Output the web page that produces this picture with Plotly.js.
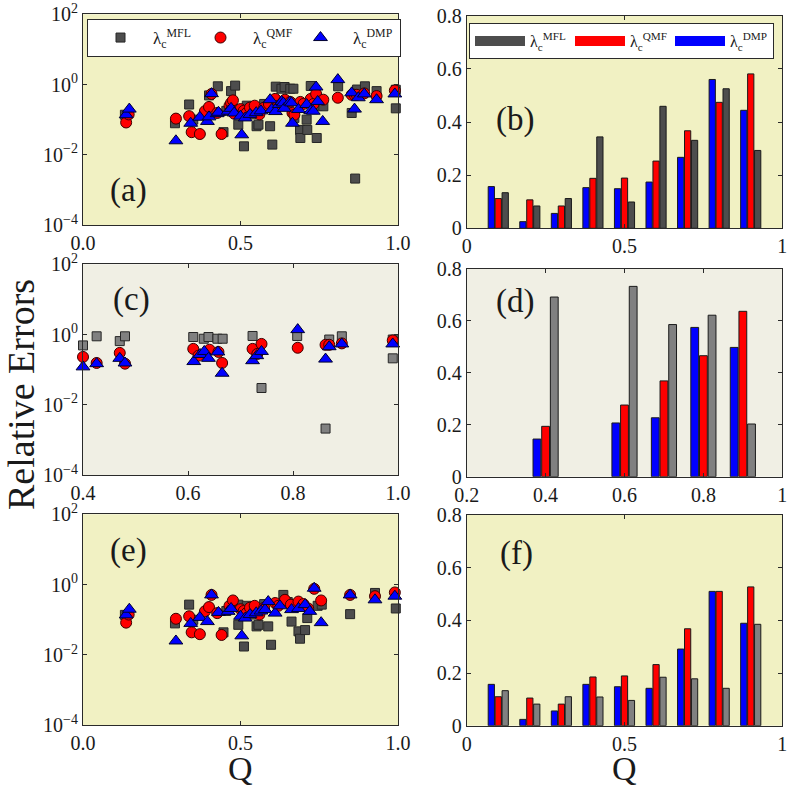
<!DOCTYPE html>
<html>
<head>
<meta charset="utf-8">
<script src="https://cdn.plot.ly/plotly-3.0.1.min.js"></script>
<style>html,body{margin:0;padding:0;background:#fff;overflow:hidden;}#chart{width:787px;height:789px;overflow:hidden;}</style>
</head>
<body>
<div id="chart"></div>
<script>
// ---------- Panel (a): scatter, all Q ----------
const qA_MFL = [0.133,0.292,0.337,0.350,0.400,0.428,0.446,0.455,0.470,0.483,0.493,0.511,0.520,0.535,0.551,0.557,0.575,0.594,0.601,0.612,0.630,0.640,0.650,0.658,0.668,0.671,0.689,0.690,0.710,0.712,0.723,0.742,0.745,0.763,0.810,0.853,0.864,0.870,0.895,0.932,0.993,0.993];
const errA_MFL = [0.138,0.079,0.27,0.1,0.49,0.89,0.044,0.178,0.65,0.93,0.072,0.0174,0.25,0.141,0.065,0.072,0.28,0.065,0.0195,0.87,0.76,0.85,0.32,0.76,0.76,0.112,0.051,0.030,0.1,0.051,0.91,0.030,0.25,0.24,0.89,0.155,0.0021,0.72,0.89,0.65,0.21,0.71];
const qA_QMF = [0.137,0.145,0.295,0.337,0.345,0.371,0.387,0.400,0.408,0.426,0.440,0.465,0.470,0.476,0.480,0.500,0.510,0.520,0.530,0.545,0.560,0.575,0.590,0.610,0.620,0.641,0.658,0.665,0.671,0.690,0.700,0.723,0.732,0.740,0.763,0.809,0.853,0.862,0.869,0.893,0.932,0.990];
const errA_QMF = [0.083,0.141,0.107,0.126,0.044,0.039,0.174,0.23,0.54,0.155,0.039,0.25,0.30,0.355,0.148,0.20,0.178,0.158,0.22,0.25,0.141,0.22,0.28,0.39,0.25,0.37,0.32,0.155,0.138,0.32,0.28,0.39,0.28,0.54,0.37,0.42,0.51,0.51,0.51,0.56,0.47,0.68];
const qA_DMP = [0.137,0.147,0.295,0.342,0.371,0.395,0.400,0.408,0.426,0.430,0.461,0.470,0.480,0.500,0.504,0.515,0.530,0.550,0.565,0.594,0.599,0.611,0.623,0.631,0.636,0.639,0.657,0.662,0.665,0.684,0.710,0.723,0.731,0.740,0.745,0.761,0.809,0.853,0.862,0.874,0.893,0.932,0.990];
const errA_DMP = [0.138,0.20,0.025,0.079,0.117,0.089,0.12,0.55,0.148,0.162,0.174,0.21,0.155,0.126,0.037,0.112,0.141,0.158,0.178,0.37,0.195,0.17,0.27,0.33,0.30,0.21,0.32,0.30,0.079,0.195,0.27,0.18,0.174,0.85,0.33,0.089,1.38,0.58,0.20,0.42,0.54,0.37,0.54];

// ---------- Panel (c): scatter, Q >= 0.4 ----------
const qC_MFL = [0.400,0.426,0.470,0.480,0.610,0.630,0.639,0.656,0.666,0.723,0.740,0.808,0.862,0.869,0.893,0.990,0.990];
const errC_MFL = [0.49,0.89,0.65,0.89,0.85,0.76,0.85,0.76,0.76,0.91,0.030,0.91,0.0021,0.72,0.89,0.21,0.72];
const qC_QMF = [0.400,0.426,0.470,0.480,0.610,0.620,0.641,0.658,0.665,0.723,0.732,0.740,0.809,0.862,0.869,0.893,0.990];
const errC_QMF = [0.23,0.155,0.30,0.148,0.39,0.25,0.37,0.32,0.155,0.39,0.28,0.54,0.42,0.51,0.51,0.56,0.68];
const qC_DMP = [0.400,0.426,0.470,0.480,0.611,0.623,0.631,0.639,0.657,0.665,0.723,0.731,0.740,0.809,0.862,0.869,0.893,0.990];
const errC_DMP = [0.12,0.148,0.21,0.155,0.17,0.27,0.33,0.21,0.32,0.079,0.18,0.25,0.33,1.38,0.20,0.45,0.54,0.54];

// ---------- Panel (e): scatter ----------
const qE_MFL = [0.133,0.292,0.337,0.350,0.446,0.455,0.493,0.493,0.511,0.520,0.535,0.551,0.557,0.575,0.588,0.597,0.636,0.650,0.662,0.684,0.689,0.705,0.712,0.745,0.758,0.848,0.927,0.993];
const errE_MFL = [0.138,0.079,0.27,0.1,0.044,0.178,0.27,0.072,0.0174,0.25,0.141,0.065,0.072,0.28,0.065,0.0195,0.51,0.32,0.089,0.047,0.029,0.051,0.112,0.25,0.27,0.145,0.58,0.21];
const qE_QMF = [0.137,0.145,0.295,0.337,0.345,0.371,0.387,0.400,0.408,0.426,0.440,0.465,0.476,0.500,0.510,0.520,0.530,0.545,0.560,0.575,0.610,0.620,0.641,0.660,0.684,0.700,0.715,0.734,0.756,0.848,0.927,0.990];
const errE_QMF = [0.083,0.141,0.107,0.126,0.044,0.039,0.174,0.23,0.51,0.155,0.037,0.25,0.355,0.20,0.178,0.158,0.22,0.25,0.141,0.22,0.30,0.25,0.37,0.27,0.33,0.28,0.21,0.76,0.355,0.51,0.47,0.60];
const qE_DMP = [0.137,0.147,0.295,0.342,0.371,0.395,0.408,0.430,0.461,0.470,0.500,0.504,0.515,0.530,0.550,0.565,0.578,0.588,0.610,0.625,0.662,0.684,0.705,0.720,0.734,0.756,0.848,0.927,0.990];
const errE_DMP = [0.138,0.20,0.025,0.079,0.117,0.089,0.51,0.162,0.174,0.21,0.126,0.035,0.112,0.141,0.158,0.178,0.195,0.33,0.155,0.25,0.195,0.21,0.27,0.174,0.79,0.083,0.51,0.37,0.47];

// ---------- Bar panels ----------
const qBar = [0.1,0.2,0.3,0.4,0.5,0.6,0.7,0.8,0.9];
const barB_DMP = [0.157,0.025,0.056,0.153,0.149,0.174,0.267,0.560,0.444];
const barB_QMF = [0.112,0.107,0.084,0.188,0.189,0.253,0.367,0.474,0.581];
const barB_MFL = [0.134,0.084,0.112,0.344,0.099,0.459,0.331,0.525,0.293];
const qBarD = [0.4,0.6,0.7,0.8,0.9];
const barD_DMP = [0.145,0.207,0.227,0.575,0.498];
const barD_QMF = [0.194,0.276,0.369,0.466,0.637];
const barD_MFL = [0.692,0.733,0.586,0.622,0.203];
const barF_DMP = [0.157,0.024,0.056,0.157,0.148,0.142,0.291,0.510,0.389];
const barF_QMF = [0.110,0.105,0.082,0.185,0.189,0.232,0.368,0.510,0.527];
const barF_MFL = [0.133,0.082,0.110,0.109,0.096,0.184,0.178,0.142,0.385];

const seriesNames = ['λ<sub>c</sub><sup>MFL</sup>','λ<sub>c</sub><sup>QMF</sup>','λ<sub>c</sub><sup>DMP</sup>'];
const logTicks = [1e-4,1e-2,1,100];
const logTickText = ['10<sup>−4</sup>','10<sup>−2</sup>','10<sup>0</sup>','10<sup>2</sup>'];

const SERIF = 'Liberation Serif, Times New Roman, serif';
const DARKGRAY = '#4d4d4d', LIGHTGRAY = '#808080';
const YELLOWBG = '#f1f1c3', BEIGEBG = '#f0efe4';

function sq(x,y,ax,ay,fill,show){return {type:'scatter',mode:'markers',x:x,y:y,xaxis:ax,yaxis:ay,name:seriesNames[0],showlegend:show,legend:'legend',cliponaxis:false,
  marker:{symbol:'square',size:9,color:fill,line:{color:'#262626',width:1}}};}
function ci(x,y,ax,ay,show){return {type:'scatter',mode:'markers',x:x,y:y,xaxis:ax,yaxis:ay,name:seriesNames[1],showlegend:show,legend:'legend',cliponaxis:false,
  marker:{symbol:'circle',size:11,color:'#ff0000',line:{color:'#3a0000',width:1}}};}
function tr(x,y,ax,ay,show){return {type:'scatter',mode:'markers',x:x,y:y,xaxis:ax,yaxis:ay,name:seriesNames[2],showlegend:show,legend:'legend',cliponaxis:false,legendwidth:42,
  marker:{symbol:'triangle-up',size:12,color:'#0000ff',line:{color:'#000030',width:1}}};}
function bar(x,y,ax,ay,col){return {type:'bar',x:x,y:y,xaxis:ax,yaxis:ay,showlegend:false,
  marker:{color:col,line:{color:'#1a1a1a',width:1}}};}
function proxy(name,col,lw){return {type:'scatter',mode:'lines',x:[null],y:[null],xaxis:'x2',yaxis:'y2',name:name,legend:'legend2',showlegend:true,legendwidth:lw,
  line:{color:col,width:20}};}

const data = [
  sq(qA_MFL,errA_MFL,'x','y',DARKGRAY,true), ci(qA_QMF,errA_QMF,'x','y',true), tr(qA_DMP,errA_DMP,'x','y',true),
  sq(qC_MFL,errC_MFL,'x3','y3',LIGHTGRAY,false), ci(qC_QMF,errC_QMF,'x3','y3',false), tr(qC_DMP,errC_DMP,'x3','y3',false),
  sq(qE_MFL,errE_MFL,'x5','y5',DARKGRAY,false), ci(qE_QMF,errE_QMF,'x5','y5',false), tr(qE_DMP,errE_DMP,'x5','y5',false),
  bar(qBar,barB_DMP,'x2','y2','#0000ff'), bar(qBar,barB_QMF,'x2','y2','#ff0000'), bar(qBar,barB_MFL,'x2','y2',DARKGRAY),
  bar(qBarD,barD_DMP,'x4','y4','#0000ff'), bar(qBarD,barD_QMF,'x4','y4','#ff0000'), bar(qBarD,barD_MFL,'x4','y4',LIGHTGRAY),
  bar(qBar,barF_DMP,'x6','y6','#0000ff'), bar(qBar,barF_QMF,'x6','y6','#ff0000'), bar(qBar,barF_MFL,'x6','y6',LIGHTGRAY),
  proxy(seriesNames[0],DARKGRAY,35), proxy(seriesNames[1],'#ff0000',35), proxy(seriesNames[2],'#0000ff',38)
];

const W = 787, H = 789;
const LX = [83/W, 398/W], RX = [466.7/W, 782.3/W];
function dy(top,bot){return [1-bot/H, 1-top/H];}
const axBase = {showline:true, mirror:'ticks', linecolor:'#2a2a2a', linewidth:1, ticks:'inside', ticklen:4, tickcolor:'#2a2a2a',
  showgrid:false, zeroline:false, tickfont:{family:SERIF,size:20,color:'#1a1a1a'}, fixedrange:true, automargin:false, ticklabeloverflow:'allow'};
function logY(anchor,dom){return Object.assign({},axBase,{type:'log',range:[-4,2],tickvals:logTicks,ticktext:logTickText,anchor:anchor,domain:dom});}
function linX(anchor,dom,range,tv,tt){return Object.assign({},axBase,{range:range,tickvals:tv,ticktext:tt,anchor:anchor,domain:dom});}
function barY(anchor,dom){return Object.assign({},axBase,{range:[0,0.8],tickvals:[0,0.2,0.4,0.6,0.8],ticktext:['0','0.2','0.4','0.6','0.8'],anchor:anchor,domain:dom});}

const tvL = [0,0.5,1], ttL = ['0.0','0.5','1.0'];
const tvR = [0,0.5,1], ttR = ['0','0.5','1'];

function bg(xa,ya,col){return {type:'rect',xref:xa+' domain',yref:ya+' domain',x0:0,x1:1,y0:0,y1:1,fillcolor:col,line:{width:0},layer:'below'};}
function lab(t,px,py){return {text:t,xref:'paper',yref:'paper',x:px/W,y:1-py/H,xanchor:'center',yanchor:'middle',showarrow:false,font:{family:SERIF,size:33,color:'#1a1a1a'}};}

const layout = {
  width:W, height:H, autosize:false, margin:{l:0,r:0,t:0,b:0,autoexpand:false}, paper_bgcolor:'#ffffff', plot_bgcolor:'rgba(0,0,0,0)',
  barmode:'group', bargap:0.34, bargroupgap:0.1, showlegend:true,
  xaxis: linX('y', LX, [0,1], tvL, ttL),
  yaxis: logY('x', dy(14.3,225)),
  xaxis2: linX('y2', RX, [0,1], tvR, ttR),
  yaxis2: barY('x2', dy(15.7,228.3)),
  xaxis3: linX('y3', LX, [0.4,1], [0.4,0.6,0.8,1.0], ['0.4','0.6','0.8','1.0']),
  yaxis3: logY('x3', dy(264.3,475)),
  xaxis4: linX('y4', RX, [0.2,1], [0.2,0.4,0.6,0.8,1], ['0.2','0.4','0.6','0.8','1']),
  yaxis4: barY('x4', dy(269,476.7)),
  xaxis5: linX('y5', LX, [0,1], tvL, ttL),
  yaxis5: logY('x5', dy(514.3,725.3)),
  xaxis6: linX('y6', RX, [0,1], tvR, ttR),
  yaxis6: barY('x6', dy(515,725.7)),
  legend: {x:87/W, y:1-19/H, xanchor:'left', yanchor:'top', orientation:'h', bgcolor:'#ffffff', bordercolor:'#2a2a2a', borderwidth:1,
    entrywidth:30, itemwidth:55, font:{family:SERIF,size:17,color:'#1a1a1a'}},
  legend2: {x:469/W, y:1-23/H, xanchor:'left', yanchor:'top', orientation:'h', bgcolor:'#ffffff', bordercolor:'#2a2a2a', borderwidth:1,
    entrywidth:35, itemwidth:50, font:{family:SERIF,size:16,color:'#1a1a1a'}},
  shapes: [bg('x','y',YELLOWBG), bg('x2','y2',YELLOWBG), bg('x3','y3',BEIGEBG), bg('x4','y4',BEIGEBG), bg('x5','y5',YELLOWBG), bg('x6','y6',YELLOWBG)],
  annotations: [
    lab('(a)',128,190), lab('(b)',515,120), lab('(c)',131.7,300), lab('(d)',515,301.7), lab('(e)',128,550), lab('(f)',516.7,553),
    {text:'Relative Errors', xref:'paper', yref:'paper', x:21/W, y:1-395/H, xanchor:'center', yanchor:'middle', textangle:-90, showarrow:false, font:{family:SERIF,size:38,color:'#1a1a1a'}},
    {text:'Q', xref:'paper', yref:'paper', x:240/W, y:1-768/H, xanchor:'center', yanchor:'middle', showarrow:false, font:{family:SERIF,size:34,color:'#1a1a1a'}},
    {text:'Q', xref:'paper', yref:'paper', x:624/W, y:1-768/H, xanchor:'center', yanchor:'middle', showarrow:false, font:{family:SERIF,size:34,color:'#1a1a1a'}}
  ]
};

Plotly.newPlot('chart', data, layout, {staticPlot:true, displayModeBar:false});
</script>
</body>
</html>
